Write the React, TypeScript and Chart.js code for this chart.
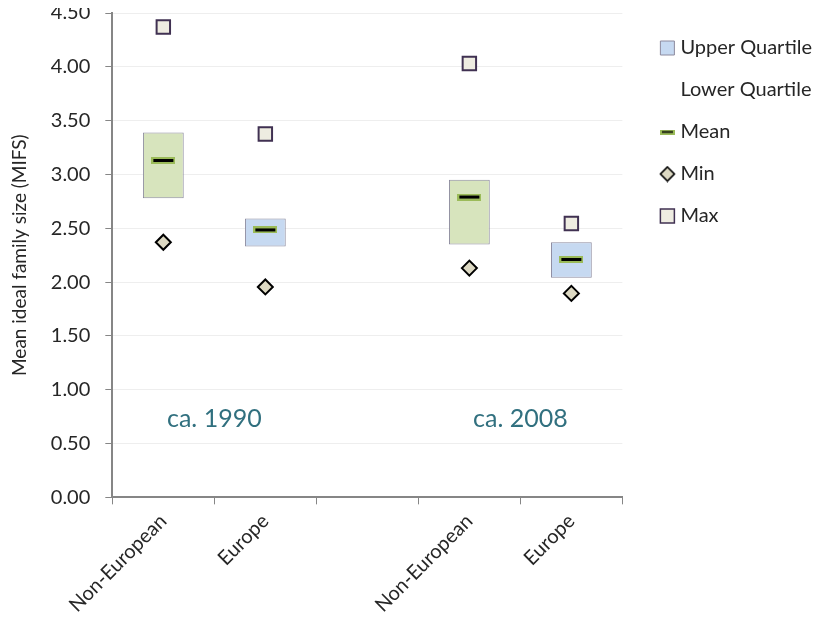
import React, { useEffect, useRef } from 'react';
import { Chart, registerables } from 'chart.js';

Chart.register(...registerables);

const categories = ['Non-European', 'Europe', '', 'Non-European', 'Europe'];
const lowerQuartile = [2.78, 2.33, null, 2.35, 2.04];
const upperQuartile = [3.39, 2.59, null, 2.95, 2.37];
const meanValues = [3.13, 2.485, null, 2.79, 2.21];
const minValues = [2.37, 1.955, null, 2.13, 1.895];
const maxValues = [4.37, 3.375, null, 4.03, 2.545];
const periodLabels = ['ca. 1990', 'ca. 2008'];
const periodLabelValue = 0.73;

const FONT = 'Lato, "Open Sans", sans-serif';
const TEXT = '#262626';
const GREEN_BOX = '#d7e4bd';
const BLUE_BOX = '#c6d9f1';
const BOX_BORDER = '#8c8a9e';
const boxColors = [GREEN_BOX, BLUE_BOX, 'rgba(0,0,0,0)', GREEN_BOX, BLUE_BOX];

function makeDash(w: number, h: number, inner: number) {
  const c = document.createElement('canvas');
  c.width = w;
  c.height = h;
  const ctx = c.getContext('2d')!;
  ctx.fillStyle = '#9bbb59';
  ctx.fillRect(0, 0, w, h);
  ctx.fillStyle = '#000000';
  const iy = (h - inner) / 2;
  ctx.fillRect(2, iy, w - 4, inner);
  return c;
}

function makeDiamond(size: number) {
  const c = document.createElement('canvas');
  c.width = size;
  c.height = size;
  const ctx = c.getContext('2d')!;
  const m = size / 2;
  const r = m - 1.5;
  ctx.beginPath();
  ctx.moveTo(m, m - r);
  ctx.lineTo(m + r, m);
  ctx.lineTo(m, m + r);
  ctx.lineTo(m - r, m);
  ctx.closePath();
  ctx.fillStyle = '#ddd9c3';
  ctx.fill();
  ctx.lineWidth = 1.6;
  ctx.strokeStyle = '#000000';
  ctx.stroke();
  return c;
}

const periodPlugin = {
  id: 'periodLabels',
  afterDatasetsDraw(chart: any) {
    const { ctx, scales } = chart;
    const x = scales.x;
    const y = scales.y;
    ctx.save();
    ctx.font = '25px ' + FONT;
    ctx.fillStyle = '#31707f';
    ctx.textAlign = 'center';
    ctx.textBaseline = 'middle';
    periodLabels.forEach((t, i) => {
      const a = x.getPixelForValue(i * 3);
      const b = x.getPixelForValue(i * 3 + 1);
      ctx.fillText(t, (a + b) / 2, y.getPixelForValue(periodLabelValue));
    });
    ctx.restore();
  },
};

export default function App() {
  const ref = useRef<HTMLCanvasElement>(null);

  useEffect(() => {
    if (!ref.current) return;
    const meanPoint = makeDash(24, 7, 3);
    const meanLegend = makeDash(15, 5, 1.6);
    const minLegend = makeDiamond(17);

    const chart = new Chart(ref.current, {
      type: 'bar',
      data: {
        labels: categories,
        datasets: [
          {
            type: 'bar',
            label: 'Lower Quartile',
            data: lowerQuartile,
            backgroundColor: 'rgba(0,0,0,0)',
            borderWidth: 0,
            grouped: false,
            barPercentage: 0.4,
            categoryPercentage: 1,
            order: 5,
          } as any,
          {
            type: 'bar',
            label: 'Upper Quartile',
            data: lowerQuartile.map((l, i) => (l == null ? null : [l, upperQuartile[i]])),
            backgroundColor: boxColors,
            borderColor: BOX_BORDER,
            borderWidth: 1,
            borderSkipped: false,
            grouped: false,
            barPercentage: 0.4,
            categoryPercentage: 1,
            order: 4,
          } as any,
          {
            type: 'line',
            label: 'Mean',
            data: meanValues,
            showLine: false,
            pointStyle: meanPoint,
            pointRadius: 6,
            order: 1,
          } as any,
          {
            type: 'line',
            label: 'Min',
            data: minValues,
            showLine: false,
            pointStyle: 'rectRot',
            pointRadius: 7.5,
            pointBackgroundColor: '#ddd9c3',
            pointBorderColor: '#000000',
            pointBorderWidth: 2,
            order: 2,
          } as any,
          {
            type: 'line',
            label: 'Max',
            data: maxValues,
            showLine: false,
            pointStyle: 'rect',
            pointRadius: 9.5,
            pointBackgroundColor: '#eeece1',
            pointBorderColor: '#403152',
            pointBorderWidth: 2,
            order: 3,
          } as any,
        ],
      },
      options: {
        animation: false,
        responsive: true,
        maintainAspectRatio: false,
        layout: { padding: { top: 0, right: 0, bottom: 10, left: 0 } },
        plugins: {
          tooltip: { enabled: false },
          legend: {
            position: 'right',
            align: 'start',
            maxWidth: 300,
            title: { display: true, text: '', font: { size: 10 }, padding: { top: 4, bottom: 0 } },
            labels: {
              usePointStyle: true,
              boxWidth: 6,
              boxHeight: 14,
              padding: 22,
              color: TEXT,
              font: { family: FONT, size: 20 },
              generateLabels: (ch: any) => {
                const ds = ch.data.datasets;
                const byLabel = (name: string) => ds.findIndex((d: any) => d.label === name);
                return [
                  { text: ds[byLabel('Upper Quartile')].label, fillStyle: BLUE_BOX, strokeStyle: BOX_BORDER, lineWidth: 1, pointStyle: 'rect', datasetIndex: byLabel('Upper Quartile'), hidden: false, fontColor: TEXT },
                  { text: ds[byLabel('Lower Quartile')].label, fillStyle: 'rgba(0,0,0,0)', strokeStyle: 'rgba(0,0,0,0)', lineWidth: 0, pointStyle: 'rect', datasetIndex: byLabel('Lower Quartile'), hidden: false, fontColor: TEXT },
                  { text: ds[byLabel('Mean')].label, fillStyle: '#9bbb59', strokeStyle: '#9bbb59', lineWidth: 0, pointStyle: meanLegend, datasetIndex: byLabel('Mean'), hidden: false, fontColor: TEXT },
                  { text: ds[byLabel('Min')].label, fillStyle: '#ddd9c3', strokeStyle: '#000', lineWidth: 0, pointStyle: minLegend, datasetIndex: byLabel('Min'), hidden: false, fontColor: TEXT },
                  { text: ds[byLabel('Max')].label, fillStyle: '#eeece1', strokeStyle: '#403152', lineWidth: 1.5, pointStyle: 'rect', datasetIndex: byLabel('Max'), hidden: false, fontColor: TEXT },
                ];
              },
            },
          },
        },
        scales: {
          x: {
            offset: true,
            grid: {
              display: true,
              drawOnChartArea: false,
              drawTicks: true,
              tickLength: 7,
              tickColor: '#868686',
              offset: true,
            },
            border: { display: true, color: '#868686', width: 2 },
            ticks: {
              color: TEXT,
              font: { family: FONT, size: 20 },
              padding: 5,
              minRotation: 45,
              maxRotation: 45,
              autoSkip: false,
            },
          },
          y: {
            min: 0,
            max: 4.5,
            grid: {
              color: '#eeeeee',
              lineWidth: 1,
              drawTicks: true,
              tickLength: 21,
              tickColor: '#868686',
              tickBorderDash: [0, 14, 10],
            },
            border: { display: true, color: '#868686', width: 2 },
            ticks: {
              stepSize: 0.5,
              color: TEXT,
              font: { family: FONT, size: 20 },
              padding: 1,
              callback: (v: any) => Number(v).toFixed(2),
            },
            title: {
              display: true,
              text: 'Mean ideal family size (MIFS)',
              color: TEXT,
              font: { family: FONT, size: 19 },
              padding: { top: 0, bottom: 19 },
            },
          },
          ySpacer: {
            type: 'linear',
            axis: 'y',
            position: 'right',
            display: true,
            grid: { display: false, drawTicks: false },
            border: { display: false },
            ticks: { display: false },
            afterFit: (s: any) => {
              s.width = 20;
            },
          },
        },
      } as any,
      plugins: [periodPlugin],
    });
    return () => chart.destroy();
  }, []);

  return (
    <div style={{ width: 812, height: 632, marginTop: -8, overflow: 'hidden' }}>
      <div style={{ position: 'relative', width: 814, height: 632 }}>
        <canvas ref={ref} />
      </div>
    </div>
  );
}
